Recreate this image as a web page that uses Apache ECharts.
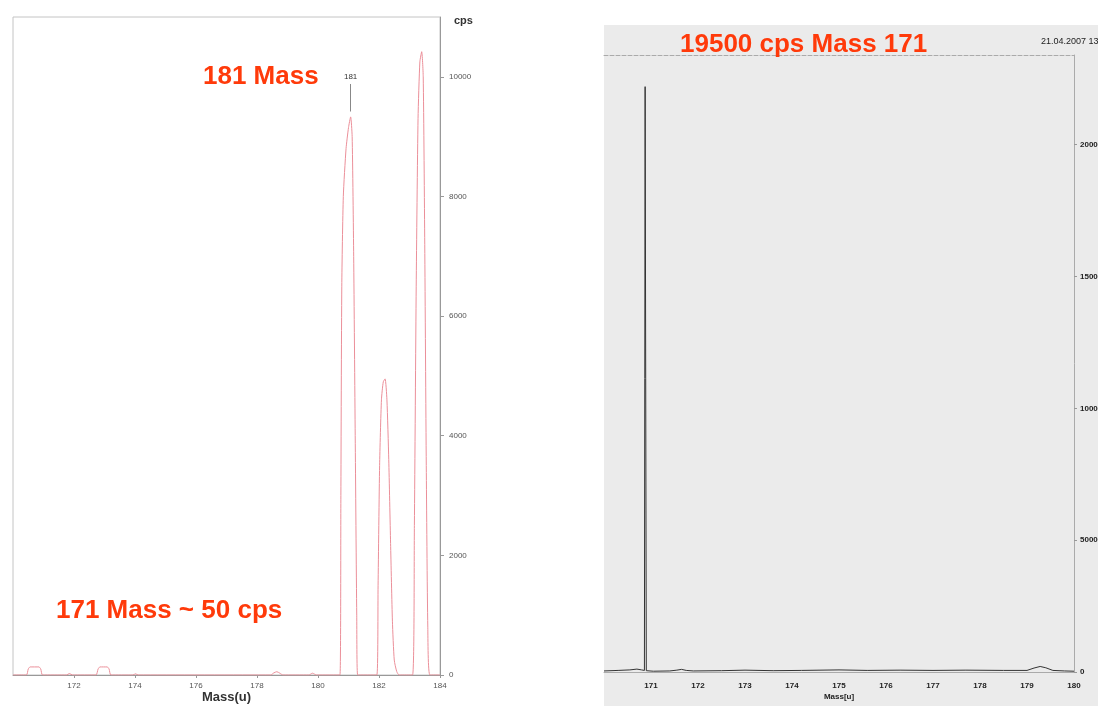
<!DOCTYPE html>
<html>
<head>
<meta charset="utf-8">
<script src="https://cdn.jsdelivr.net/npm/echarts@6/dist/echarts.min.js"></script>
<style>
  html, body { margin: 0; padding: 0; background: #fff; }
  #chart { width: 1098px; height: 706px; }
</style>
</head>
<body>
<div id="chart"></div>
<script>
// left spectrum (mass in u, intensity in cps)
var leftMass = [
  170.0, 170.44, 170.5, 170.56, 170.85, 170.91, 170.97,
  171.75, 171.85, 171.95,
  172.72, 172.79, 172.85, 173.09, 173.15, 173.21,
  173.93, 174.02, 174.1,
  178.45, 178.55, 178.65, 178.75, 178.85,
  179.7, 179.82, 179.95,
  180.72, 180.75, 180.78, 180.83, 180.92, 181.0, 181.07, 181.12, 181.17, 181.22, 181.27, 181.3,
  181.93, 181.97, 182.02, 182.08, 182.14, 182.2, 182.26, 182.32, 182.38, 182.44, 182.5, 182.58, 182.66,
  183.1, 183.16, 183.22, 183.28, 183.34, 183.4, 183.45, 183.5, 183.55, 183.6, 183.67,
  184.0
];
var leftCps = [
  0, 0, 100, 135, 135, 100, 0,
  0, 25, 0,
  0, 100, 135, 135, 100, 0,
  0, 20, 0,
  0, 35, 55, 30, 0,
  0, 30, 0,
  0, 3000, 6500, 8000, 8800, 9150, 9330, 9000, 7000, 4000, 1000, 0,
  0, 1500, 3500, 4600, 4900, 4950, 4600, 3600, 2200, 900, 250, 60, 0,
  0, 2500, 6500, 9300, 10250, 10420, 10000, 7200, 3500, 800, 0,
  0
];
var leftMassTicks = [172, 174, 176, 178, 180, 182, 184];
var leftCpsTicks = [0, 2000, 4000, 6000, 8000, 10000];

// right spectrum
var rightMass = [
  170.0, 170.3, 170.55, 170.7, 170.8, 170.86, 170.875, 170.885, 170.9, 171.05,
  171.4, 171.55, 171.65, 171.75, 171.9, 172.5, 173.0, 173.6, 174.2, 175.0,
  175.6, 176.3, 177.0, 177.7, 178.5, 179.0, 179.15, 179.28, 179.4, 179.55,
  179.8, 180.0
];
var rightCps = [
  40, 60, 80, 110, 80, 60, 22200, 22200, 50, 30,
  40, 70, 100, 60, 40, 50, 70, 50, 60, 80,
  60, 70, 60, 70, 60, 60, 150, 210, 160, 60,
  40, 30
];
var rightMassTicks = [171, 172, 173, 174, 175, 176, 177, 178, 179, 180];
var rightCpsTicks = [0, 5000, 10000, 15000, 20000];

var FONT = '"Liberation Sans", Arial, sans-serif';
var RED = '#ff3a0a';

var chart = echarts.init(document.getElementById('chart'));

var leftData = leftMass.map(function (m, i) { return [m, leftCps[i]]; });
var rightData = rightMass.map(function (m, i) { return [m, rightCps[i]]; });

function plain(v) { return String(v); }

chart.setOption({
  animation: false,
  backgroundColor: '#fff',
  textStyle: { fontFamily: FONT },
  graphic: [
    {
      type: 'rect', z: -10, silent: true,
      shape: { x: 604, y: 25, width: 494, height: 681 },
      style: { fill: '#ebebeb' }
    },
    {
      type: 'text', z: 100, x: 203, y: 77,
      style: { text: '181 Mass', fill: RED, font: 'bold 26px ' + FONT, verticalAlign: 'middle' }
    },
    {
      type: 'text', z: 100, x: 56, y: 611,
      style: { text: '171 Mass ~ 50 cps', fill: RED, font: 'bold 26px ' + FONT, verticalAlign: 'middle' }
    },
    {
      type: 'text', z: 100, x: 680, y: 45,
      style: { text: '19500 cps Mass 171', fill: RED, font: 'bold 26px ' + FONT, verticalAlign: 'middle' }
    },
    {
      type: 'text', z: 100, x: 1041, y: 42,
      style: { text: '21.04.2007 13', fill: '#222', font: '9px ' + FONT, verticalAlign: 'middle' }
    }
  ],
  grid: [
    {
      left: 13, top: 17, width: 427, height: 658, outerBoundsMode: 'none',
      show: true, borderColor: '#c4c4c4', borderWidth: 1, backgroundColor: '#fff'
    },
    { left: 604, top: 55, width: 470, height: 617, outerBoundsMode: 'none' }
  ],
  xAxis: [
    {
      gridIndex: 0, type: 'value', min: 170, max: 184,
      name: 'Mass(u)', nameLocation: 'middle', nameGap: 16, nameMoveOverlap: false,
      nameTextStyle: { fontWeight: 'bold', fontSize: 13, color: '#333' },
      axisLine: { lineStyle: { color: '#999' } },
      axisTick: { show: true, length: 3, customValues: leftMassTicks, lineStyle: { color: '#999' } },
      axisLabel: { customValues: leftMassTicks, formatter: plain, fontSize: 8, color: '#555', margin: 7 },
      splitLine: { show: false }
    },
    {
      gridIndex: 1, type: 'value', min: 170, max: 180,
      name: 'Mass[u]', nameLocation: 'middle', nameGap: 21, nameMoveOverlap: false,
      nameTextStyle: { fontWeight: 'bold', fontSize: 8, color: '#222' },
      axisLine: { lineStyle: { color: '#aaa' } },
      axisTick: { show: false },
      axisLabel: { customValues: rightMassTicks, formatter: plain, fontSize: 8, fontWeight: 'bold', color: '#222', margin: 10 },
      splitLine: { show: false }
    },
    {
      gridIndex: 1, type: 'value', min: 170, max: 180, position: 'top',
      axisLine: { show: true, lineStyle: { color: '#aaa', type: 'dashed' } },
      axisTick: { show: false },
      axisLabel: { show: false },
      splitLine: { show: false }
    }
  ],
  yAxis: [
    {
      gridIndex: 0, type: 'value', min: 0, max: 11000, position: 'right',
      name: 'cps', nameLocation: 'end', nameGap: -4,
      nameTextStyle: { fontWeight: 'bold', fontSize: 11, color: '#333', align: 'left', verticalAlign: 'middle', padding: [0, 0, 0, 14] },
      axisLine: { show: true, lineStyle: { color: '#999' } },
      axisTick: { show: true, length: 4, customValues: leftCpsTicks, lineStyle: { color: '#999' } },
      axisLabel: { customValues: leftCpsTicks, formatter: plain, fontSize: 8, color: '#555', margin: 9 },
      splitLine: { show: false }
    },
    {
      gridIndex: 1, type: 'value', min: 0, max: 23400, position: 'right',
      axisLine: { show: true, lineStyle: { color: '#aaa' } },
      axisTick: { show: true, length: 3, customValues: rightCpsTicks, lineStyle: { color: '#999' } },
      axisLabel: { customValues: rightCpsTicks, formatter: plain, fontSize: 8, fontWeight: 'bold', color: '#222', margin: 6 },
      splitLine: { show: false }
    }
  ],
  series: [
    {
      type: 'line', xAxisIndex: 0, yAxisIndex: 0,
      data: leftData,
      showSymbol: false, smooth: 0.2,
      lineStyle: { color: '#eb8f99', width: 1 },
      markLine: {
        silent: true, symbol: ['none', 'none'],
        lineStyle: { color: '#888', width: 1, type: 'solid' },
        label: { show: true, position: 'end', formatter: '181', fontSize: 8, color: '#333', distance: 3 },
        data: [[{ coord: [181.07, 9420] }, { coord: [181.07, 9880] }]]
      }
    },
    {
      type: 'line', xAxisIndex: 1, yAxisIndex: 1,
      data: rightData,
      showSymbol: false,
      lineStyle: { color: '#333', width: 1 }
    }
  ]
});
</script>
</body>
</html>
